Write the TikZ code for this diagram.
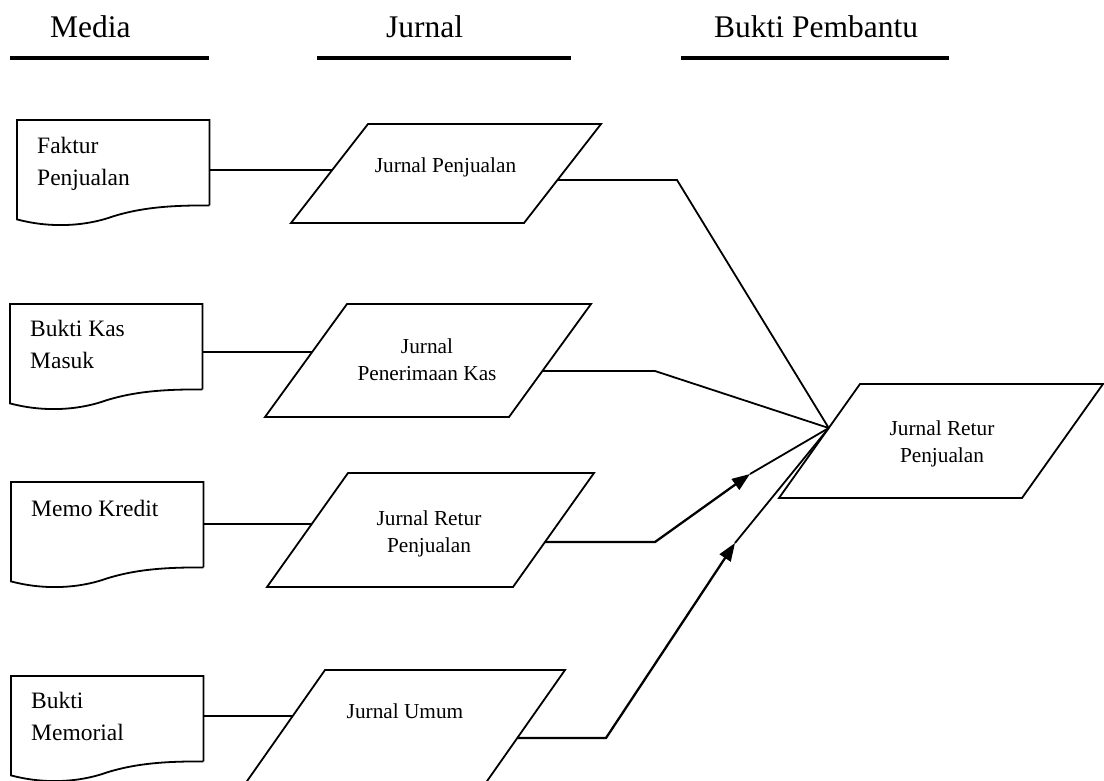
\documentclass[tikz,border=0pt]{standalone}
\usepackage{fontspec}
\setmainfont{Liberation Serif}
\usetikzlibrary{calc,arrows.meta}

% outline of a flowchart "document" symbol around a frame node
\newcommand\docoutline[1]{%
  \draw[shapeline] (#1.south east) -- (#1.north east) -- (#1.north west)
    -- ([yshift=-14pt]#1.south west)
    .. controls ([xshift=30pt,yshift=-22pt]#1.south west) and ([xshift=65pt,yshift=-22pt]#1.south west)
    .. ([xshift=96pt,yshift=-11pt]#1.south west)
    .. controls ([xshift=128pt,yshift=-1pt]#1.south west) and ([xshift=160pt]#1.south west)
    .. (#1.south east);}

% parallelogram: name, top-left x, top y, width, height, slant offset
\newcommand\paraoutline[6]{%
  \coordinate (#1-tl) at (#2,#3);
  \coordinate (#1-tr) at (#2+#4,#3);
  \coordinate (#1-br) at (#2+#4-#6,#3+#5);
  \coordinate (#1-bl) at (#2-#6,#3+#5);
  \draw[shapeline] (#1-tl) -- (#1-tr) -- (#1-br) -- (#1-bl) -- cycle;}

\begin{document}
\begin{tikzpicture}[x=1pt,y=-1pt,
  shapeline/.style={line width=1.8pt, line join=miter},
  conn/.style={line width=1.8pt},
  flow/.style={line width=2.3pt, -{Triangle[length=18pt,width=13pt]}},
  rule/.style={line width=4pt},
  heading/.style={font=\fontsize{31.5}{36}\selectfont, inner sep=0, anchor=base west},
  doctext/.style={font=\fontsize{23.5}{32}\selectfont, inner sep=0, align=left, anchor=north west},
  jtext/.style={font=\fontsize{21.3}{27}\selectfont, inner sep=0, align=center, anchor=north},
  docframe/.style={minimum width=192pt, minimum height=85pt, inner sep=0, anchor=north west},
]
\useasboundingbox (0,0) rectangle (1104,780);
\clip (0,0) rectangle (1104,780);

% column headings
\node[heading] (hmedia) at (50,37) {Media};
\node[heading] (hjurnal) at (386,37) {Jurnal};
\node[heading] (hbukti) at (714,37) {Bukti Pembantu};
\draw[rule] (10,58) -- (209,58);
\draw[rule] (317,58) -- (571,58);
\draw[rule] (681,58) -- (949,58);

% source documents
\node[docframe] (d1) at (17,120) {};
\node[docframe] (d2) at (10,304) {};
\node[docframe] (d3) at (11,482) {};
\node[docframe] (d4) at (11,676) {};
\docoutline{d1}
\docoutline{d2}
\docoutline{d3}
\docoutline{d4}
\node[doctext] (t1) at (37,137) {Faktur\\Penjualan};
\node[doctext] (t2) at (30,320) {Bukti Kas\\Masuk};
\node[doctext] (t3) at (31,500) {Memo Kredit};
\node[doctext] (t4) at (31,692) {Bukti\\Memorial};

% journals
\paraoutline{p1}{368}{124}{233}{99}{77}
\paraoutline{p2}{347}{304}{244}{113}{82}
\paraoutline{p3}{348}{473}{246}{114}{81}
\paraoutline{p4}{325}{670}{240}{114}{80}
\paraoutline{t}{860}{384}{243}{114}{81}
\node[jtext] (j1) at (445.5,157.5) {Jurnal Penjualan};
\node[jtext] (j2) at (427,338.5) {Jurnal\\Penerimaan Kas};
\node[jtext] (j3) at (429,510.5) {Jurnal Retur\\Penjualan};
\node[jtext] (j4) at (405,704) {Jurnal Umum};
\node[jtext] (jt) at (942,420.5) {Jurnal Retur\\Penjualan};

% connection points on the slanted sides
\coordinate (p1in)  at ($(p1-tl)!0.465!(p1-bl)$);
\coordinate (p1out) at ($(p1-tr)!0.566!(p1-br)$);
\coordinate (p2in)  at ($(p2-tl)!0.425!(p2-bl)$);
\coordinate (p2out) at ($(p2-tr)!0.593!(p2-br)$);
\coordinate (p3in)  at ($(p3-tl)!0.447!(p3-bl)$);
\coordinate (p3out) at ($(p3-tr)!0.605!(p3-br)$);
\coordinate (p4in)  at ($(p4-tl)!0.404!(p4-bl)$);
\coordinate (p4out) at ($(p4-tr)!0.596!(p4-br)$);
\coordinate (conv)  at ($(t-tl)!0.386!(t-bl)$);

% documents to journals
\draw[conn] (d1.east |- p1in) -- (p1in);
\draw[conn] (d2.east |- p2in) -- (p2in);
\draw[conn] (d3.east |- p3in) -- (p3in);
\draw[conn] (d4.east |- p4in) -- (p4in);

% journals to the subsidiary record
\coordinate (k1) at (677,180);
\coordinate (k2) at (655,371);
\coordinate (k3) at (655,542);
\coordinate (a3) at (750,474);
\coordinate (k4) at (606,738);
\coordinate (a4) at (735,543);
\draw[conn] (p1out) -- (k1) -- (conv);
\draw[conn] (p2out) -- (k2) -- (conv);
\draw[flow] (p3out) -- (k3) -- (a3);
\draw[conn] (a3) -- (conv);
\draw[flow] (p4out) -- (k4) -- (a4);
\draw[conn] (a4) -- (conv);
\end{tikzpicture}
\end{document}
